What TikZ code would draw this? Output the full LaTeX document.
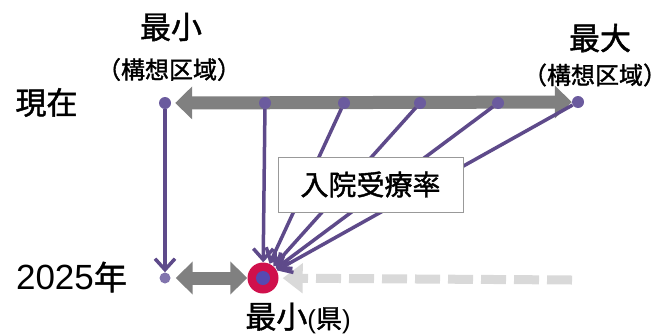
\documentclass[tikz,border=0pt]{standalone}
\usepackage{fontspec}
\setmainfont{Liberation Sans}
\newfontfamily\jp[FakeBold=1.5]{Noto Sans CJK JP}
\usetikzlibrary{arrows.meta,backgrounds}
\definecolor{dotpurple}{HTML}{6B5B9E}
\definecolor{linepurple}{HTML}{5E4A8A}
\definecolor{arrgray}{HTML}{808080}
\definecolor{paleg}{HTML}{D9D9D9}
\definecolor{crimson}{HTML}{D0104C}
\begin{document}
\begin{tikzpicture}[x=1pt,y=-1pt,
  dotnode/.style={circle,fill=dotpurple,inner sep=0pt,minimum size=12pt},
  conn/.style={draw=linepurple,line width=3.5pt,-{Straight Barb[length=11pt,width=20pt,line width=3.5pt]}},
  grayarr/.style={draw=arrgray,line width=13pt,{Triangle[length=17pt,width=32pt]}-{Triangle[length=17pt,width=32pt]}},
  lbl/.style={inner sep=0pt,font=\jp\fontsize{31}{31}\selectfont},
  sublbl/.style={inner sep=0pt,font=\jp\fontsize{24}{24}\selectfont}]
\useasboundingbox (0,0) rectangle (668,335);
% dots
\node[dotnode] (t1) at (165,103) {};
\node[dotnode] (t2) at (265,103) {};
\node[dotnode] (t3) at (344,103) {};
\node[dotnode] (t4) at (420,103) {};
\node[dotnode] (t5) at (498,103) {};
\node[dotnode] (t6) at (578,102) {};
\node[dotnode,minimum size=11pt,fill=dotpurple!85!white] (b1) at (165,278) {};
\node[circle,fill=crimson,inner sep=0pt,minimum size=31pt] (r) at (263,278) {};
\fill[dotpurple!80!blue] (r.center) circle (7pt);
\coordinate (dashend) at (572,280);
% gray arrows behind
\begin{scope}[on background layer]
\draw[grayarr,shorten <=4pt] (t1) -- (t6);
\draw[grayarr,shorten <=5pt] (b1) -- (r);
\draw[draw=paleg,line width=9pt,dash pattern=on 25pt off 8pt,-{Triangle[length=20pt,width=29pt]},shorten >=4pt] (dashend) -- (r);
\end{scope}
% purple connectors
\draw[conn] (t1) -- (b1);
\draw[conn] (t2) -- (r);
\draw[conn] (t3) -- (r);
\draw[conn] (t4) -- (r);
\draw[conn] (t5) -- (r);
\draw[conn] (t6) -- (r);
% box
\node[draw=black!40,fill=white,line width=1pt,minimum width=185pt,minimum height=55pt,
      font=\jp\fontsize{28}{28}\selectfont] (box) at (370.5,184.5) {入院受療率};
% labels
\node[lbl] (lmin) at (171,27) {最小};
\node[sublbl] (lminsub) at (169,69.5) {（構想区域）};
\node[lbl] (lmax) at (600,38) {最大};
\node[sublbl] (lmaxsub) at (595,75) {（構想区域）};
\node[lbl] (now) at (46.5,102.5) {現在};
\node[inner sep=0pt] (yr) at (71.5,277) {\fontsize{35}{35}\selectfont 2025\jp\fontsize{33}{33}\selectfont 年};
\node[inner sep=0pt] (pref) at (298,318) {\jp\fontsize{31}{31}\selectfont 最小\fontsize{26}{26}\selectfont\rmfamily(\jp 県\rmfamily)};
\end{tikzpicture}
\end{document}
